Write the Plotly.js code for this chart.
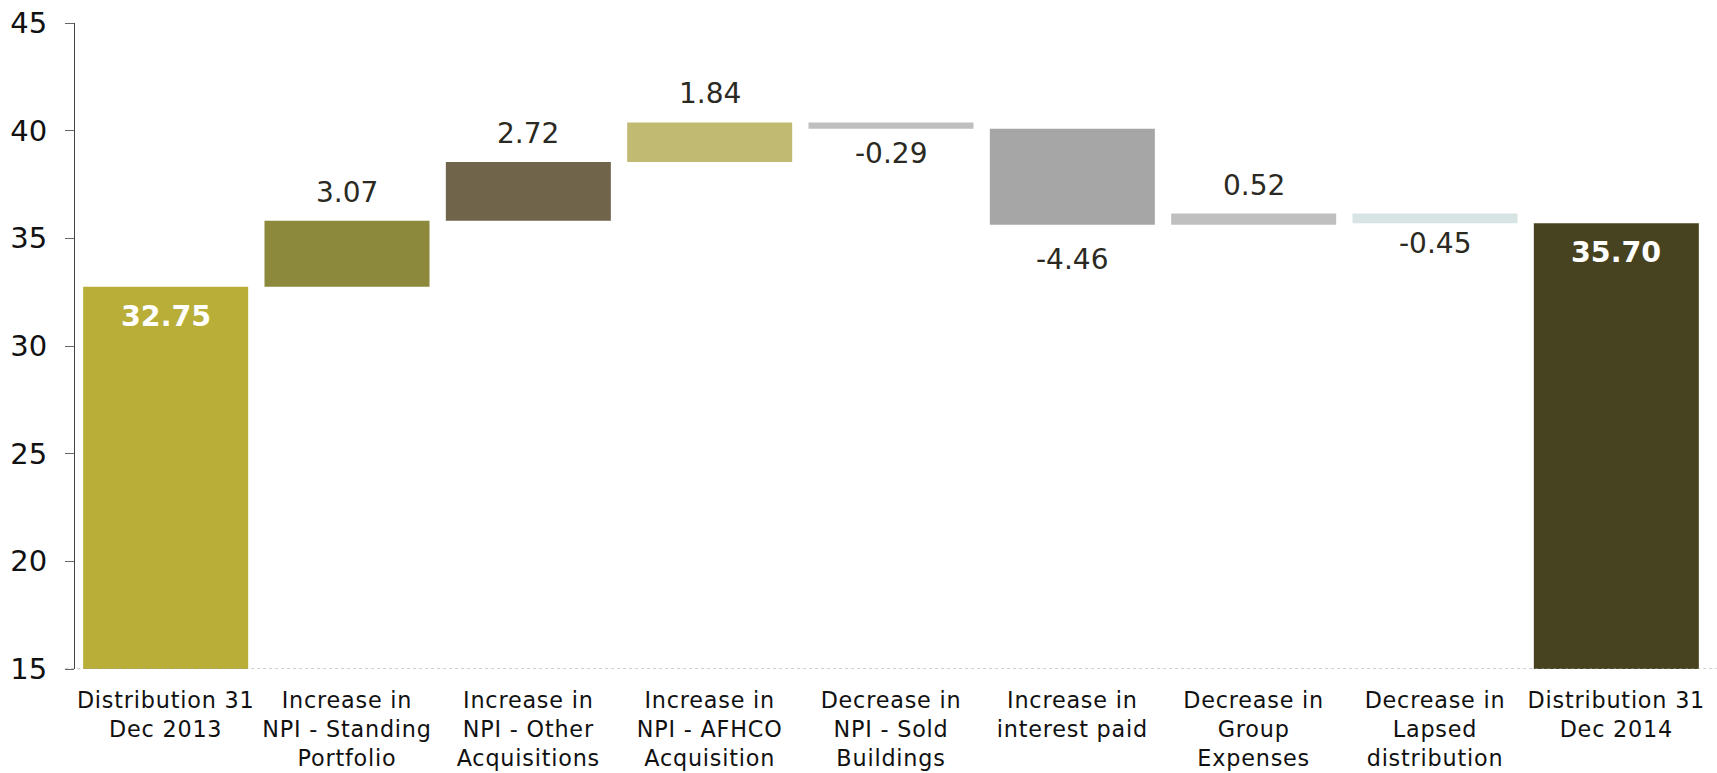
<!DOCTYPE html>
<html>
<head>
<meta charset="utf-8">
<script src="https://cdn.plot.ly/plotly-3.0.1.min.js"></script>
<style>
  html, body { margin: 0; padding: 0; background: #fff; }
  #chart { width: 1717px; height: 773px; }
  /* slightly looser tracking for the category labels */
  #chart .xtick text { letter-spacing: 0.8px; }
</style>
</head>
<body>
<div id="chart"></div>
<script>
// Distribution bridge: opening total, movements, closing total
const categories = [
  "Distribution 31<br>Dec 2013",
  "Increase in<br>NPI - Standing<br>Portfolio",
  "Increase in<br>NPI - Other<br>Acquisitions",
  "Increase in<br>NPI - AFHCO<br>Acquisition",
  "Decrease in<br>NPI - Sold<br>Buildings",
  "Increase in<br>interest paid",
  "Decrease in<br>Group<br>Expenses",
  "Decrease in<br>Lapsed<br>distribution",
  "Distribution 31<br>Dec 2014"
];
const openingTotal = 32.75;
const movements = [3.07, 2.72, 1.84, -0.29, -4.46, 0.52, -0.45];
const closingTotal = 35.70;
const barColors = ["#B8AE38", "#8C893D", "#70654A", "#C1BA72", "#BFBFBF",
                   "#A6A6A6", "#BFBFBF", "#D8E4E4", "#474320"];
const yMin = 15, yMax = 45;

// Build floating bars: each movement starts where the previous one ended
const bases = [0];
const heights = [openingTotal];
let running = openingTotal;
movements.forEach(function (m) {
  bases.push(running);
  heights.push(m);
  running += m;
});
bases.push(0);
heights.push(closingTotal);

const trace = {
  type: "bar",
  x: categories,
  y: heights,
  base: bases,
  marker: { color: barColors, line: { width: 0 } },
  hoverinfo: "skip",
  cliponaxis: true
};

const fontFamily = "DejaVu Sans, Verdana, sans-serif";
// Pixel gap between each movement bar and its value label
const labelGap = [10, 10, 10, 6, 16, 10, 2];

const annotations = [];
// Totals: bold white value inside the top of the bar
[[0, openingTotal], [categories.length - 1, closingTotal]].forEach(function (p) {
  annotations.push({
    x: categories[p[0]], y: p[1], xref: "x", yref: "y",
    text: "<b>" + p[1].toFixed(2) + "</b>",
    showarrow: false, yanchor: "top", yshift: -11,
    font: { family: fontFamily, size: 28.5, color: "#ffffff" }
  });
});
// Movements: value above rising bars, below falling bars
movements.forEach(function (m, i) {
  const end = bases[i + 1] + m;
  const up = m >= 0;
  annotations.push({
    x: categories[i + 1], y: end, xref: "x", yref: "y",
    text: m.toFixed(2),
    showarrow: false,
    yanchor: up ? "bottom" : "top",
    yshift: up ? labelGap[i] : -labelGap[i],
    font: { family: fontFamily, size: 28, color: "#2b2a22" }
  });
});

const layout = {
  width: 1717,
  height: 773,
  margin: { l: 75, r: 10, t: 23, b: 104 },
  paper_bgcolor: "#ffffff",
  plot_bgcolor: "#ffffff",
  showlegend: false,
  bargap: 0.09,
  font: { family: fontFamily, color: "#111111" },
  xaxis: {
    type: "category",
    showgrid: false,
    zeroline: false,
    showline: false,
    ticks: "",
    tickfont: { family: fontFamily, size: 22.3, color: "#111111" },
    ticklabelstandoff: 16
  },
  yaxis: {
    range: [yMin, yMax],
    tickvals: [15, 20, 25, 30, 35, 40, 45],
    ticktext: ["15", "20", "25", "30", "35", "40", "45"],
    showgrid: false,
    zeroline: false,
    showline: true,
    linecolor: "#444444",
    linewidth: 1,
    ticks: "outside",
    ticklen: 9,
    tickcolor: "#666666",
    tickfont: { family: fontFamily, size: 29, color: "#111111" },
    ticklabelstandoff: 12
  },
  shapes: [{
    type: "line", xref: "paper", yref: "y",
    x0: -0.006, x1: 1.006, y0: yMin, y1: yMin,
    line: { color: "#9a9a9a", width: 1, dash: "dot" }
  }],
  annotations: annotations
};

Plotly.newPlot("chart", [trace], layout, { displayModeBar: false, staticPlot: true });
</script>
</body>
</html>
